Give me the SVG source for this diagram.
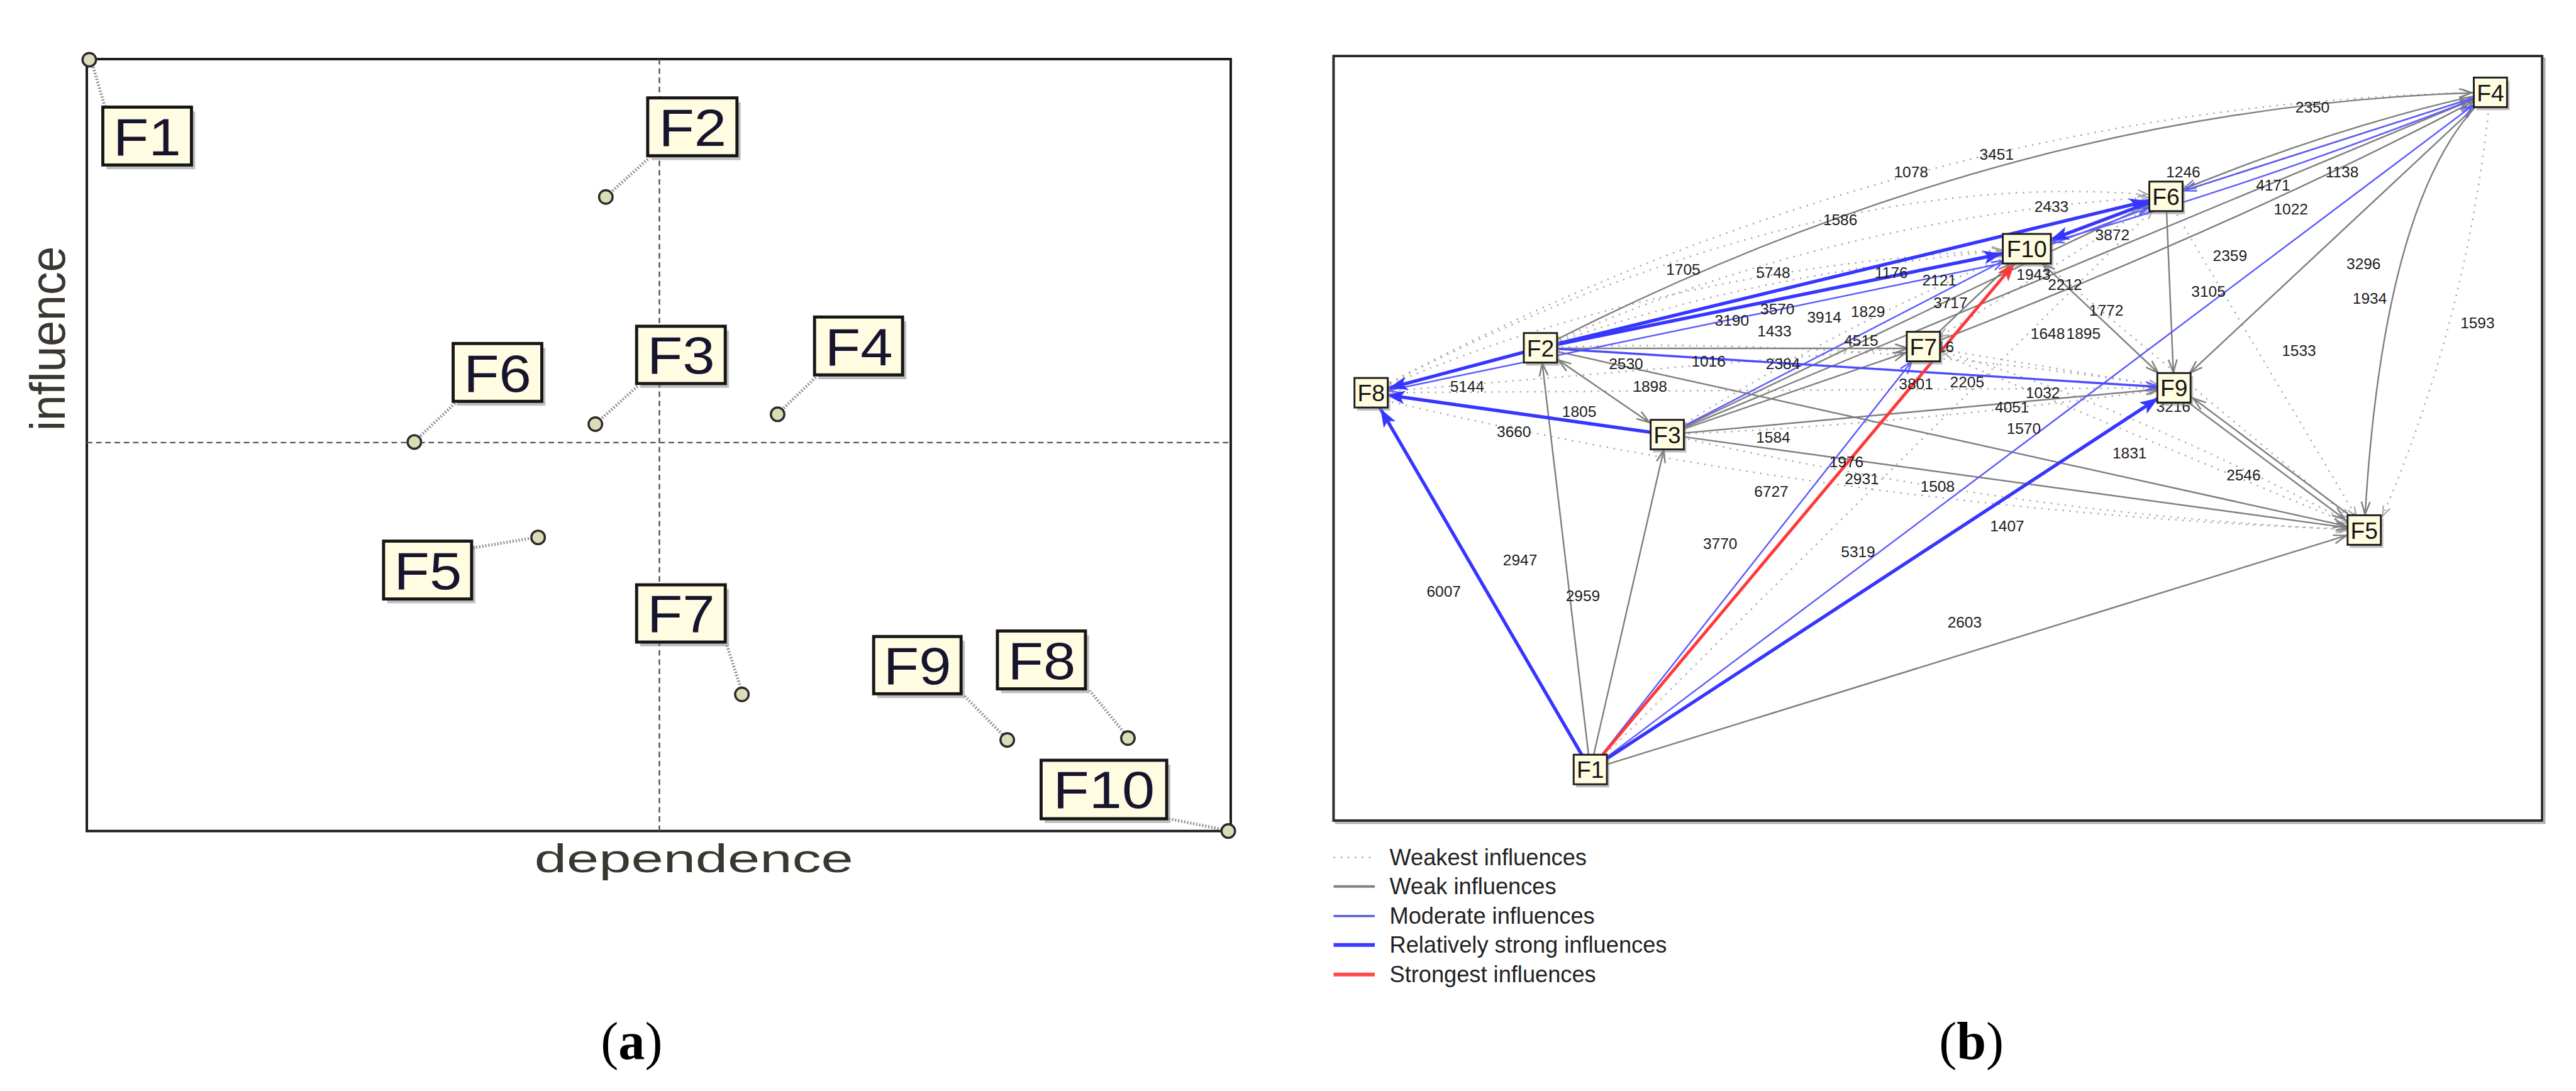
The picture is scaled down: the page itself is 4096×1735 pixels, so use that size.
<svg xmlns="http://www.w3.org/2000/svg" width="4096" height="1735" viewBox="0 0 4096 1735">
<style>
.eg{fill:none;stroke:#7f7f7f;stroke-width:2.5}
.eb{fill:none;stroke:#5b5bff;stroke-width:2.5}
.eb2{fill:none;stroke:#4a4aff;stroke-width:3.5}
.eB{fill:none;stroke:#3636ff;stroke-width:5.5}
.er{fill:none;stroke:#ff3838;stroke-width:5}
.ed{fill:none;stroke:#a8a8a8;stroke-width:2.5;stroke-dasharray:2.5 9}
.lb{font-family:"Liberation Sans",Arial,sans-serif;font-size:25px;fill:#1c1c1c;text-anchor:middle}
.bx{fill:#fffce0;stroke:#1e1e1e;stroke-width:3}
.bxa{fill:#fffce2;stroke:#161616;stroke-width:5}
.sh{fill:#8a8a8a;opacity:0.55}
.nt{font-family:"Liberation Sans",Arial,sans-serif;font-size:38px;fill:#151515;text-anchor:middle}
.nta{font-family:"Liberation Sans",Arial,sans-serif;font-size:86px;fill:#17142e;text-anchor:middle}
.pt{fill:#dcdcb8;stroke:#2a2a2a;stroke-width:3.5}
.ld{stroke:#8a8a8a;stroke-width:5;stroke-dasharray:2 3;fill:none}
.lg{font-family:"Liberation Sans",Arial,sans-serif;font-size:37px;fill:#222}
.cap{font-family:"Liberation Serif","Times New Roman",serif;font-size:86px;fill:#000;text-anchor:middle}
</style>
<defs>
<marker id="mg25" markerUnits="userSpaceOnUse" markerWidth="22" markerHeight="16" refX="46" refY="7" orient="auto-start-reverse" overflow="visible"><path d="M0,0 L21,7 L0,14" fill="none" stroke="#7f7f7f" stroke-width="2.5"/></marker>
<marker id="mg30" markerUnits="userSpaceOnUse" markerWidth="22" markerHeight="16" refX="51" refY="7" orient="auto-start-reverse" overflow="visible"><path d="M0,0 L21,7 L0,14" fill="none" stroke="#7f7f7f" stroke-width="2.5"/></marker>
<marker id="mg35" markerUnits="userSpaceOnUse" markerWidth="22" markerHeight="16" refX="56" refY="7" orient="auto-start-reverse" overflow="visible"><path d="M0,0 L21,7 L0,14" fill="none" stroke="#7f7f7f" stroke-width="2.5"/></marker>
<marker id="mb25" markerUnits="userSpaceOnUse" markerWidth="22" markerHeight="16" refX="46" refY="7" orient="auto" overflow="visible"><path d="M0,0 L21,7 L0,14" fill="none" stroke="#5b5bff" stroke-width="2.5"/></marker>
<marker id="mb30" markerUnits="userSpaceOnUse" markerWidth="22" markerHeight="16" refX="51" refY="7" orient="auto" overflow="visible"><path d="M0,0 L21,7 L0,14" fill="none" stroke="#5b5bff" stroke-width="2.5"/></marker>
<marker id="mb35" markerUnits="userSpaceOnUse" markerWidth="22" markerHeight="16" refX="56" refY="7" orient="auto" overflow="visible"><path d="M0,0 L21,7 L0,14" fill="none" stroke="#5b5bff" stroke-width="2.5"/></marker>
<marker id="mb41" markerUnits="userSpaceOnUse" markerWidth="22" markerHeight="16" refX="62" refY="7" orient="auto" overflow="visible"><path d="M0,0 L21,7 L0,14" fill="none" stroke="#5b5bff" stroke-width="2.5"/></marker>
<marker id="mB25" markerUnits="userSpaceOnUse" markerWidth="32" markerHeight="24" refX="55" refY="11" orient="auto" overflow="visible"><path d="M0,0 L30,11 L0,22 L7,11 z" fill="#3636ff"/></marker>
<marker id="mB30" markerUnits="userSpaceOnUse" markerWidth="32" markerHeight="24" refX="60" refY="11" orient="auto" overflow="visible"><path d="M0,0 L30,11 L0,22 L7,11 z" fill="#3636ff"/></marker>
<marker id="mB41" markerUnits="userSpaceOnUse" markerWidth="32" markerHeight="24" refX="71" refY="11" orient="auto" overflow="visible"><path d="M0,0 L30,11 L0,22 L7,11 z" fill="#3636ff"/></marker>
<marker id="mr30" markerUnits="userSpaceOnUse" markerWidth="32" markerHeight="24" refX="60" refY="11" orient="auto" overflow="visible"><path d="M0,0 L30,11 L0,22 L7,11 z" fill="#ff3838"/></marker>
<marker id="md25" markerUnits="userSpaceOnUse" markerWidth="18" markerHeight="14" refX="41" refY="6" orient="auto" overflow="visible"><path d="M0,0 L16,6 L0,12" fill="none" stroke="#a0a0a0" stroke-width="2"/></marker>
<marker id="md30" markerUnits="userSpaceOnUse" markerWidth="18" markerHeight="14" refX="46" refY="6" orient="auto" overflow="visible"><path d="M0,0 L16,6 L0,12" fill="none" stroke="#a0a0a0" stroke-width="2"/></marker>
<marker id="md35" markerUnits="userSpaceOnUse" markerWidth="18" markerHeight="14" refX="51" refY="6" orient="auto" overflow="visible"><path d="M0,0 L16,6 L0,12" fill="none" stroke="#a0a0a0" stroke-width="2"/></marker>
<marker id="md41" markerUnits="userSpaceOnUse" markerWidth="18" markerHeight="14" refX="57" refY="6" orient="auto" overflow="visible"><path d="M0,0 L16,6 L0,12" fill="none" stroke="#a0a0a0" stroke-width="2"/></marker>
</defs>
<rect x="0" y="0" width="4096" height="1735" fill="#ffffff"/>
<g transform="scale(0.978967)">

<!-- ===== Panel (a) ===== -->
<g id="panel-a">
  <rect x="141" y="96" width="1858" height="1254" fill="none" stroke="#1a1a1a" stroke-width="4"/>
  <line x1="1071" y1="96" x2="1071" y2="1350" stroke="#555" stroke-width="2.5" stroke-dasharray="9 6"/>
  <line x1="141" y1="719" x2="1999" y2="719" stroke="#555" stroke-width="2.5" stroke-dasharray="9 6"/>
  <text transform="translate(105,700) rotate(-90)" font-family="Liberation Sans, Arial, sans-serif" font-size="80" fill="#3a3630" textLength="300" lengthAdjust="spacingAndGlyphs">influence</text>
  <text x="868" y="1417" font-family="Liberation Sans, Arial, sans-serif" font-size="64" fill="#3a3630" textLength="518" lengthAdjust="spacingAndGlyphs">dependence</text>
</g>
<g id="a-F1"><line class="ld" x1="150" y1="104" x2="170" y2="172"/><circle class="pt" cx="145" cy="97" r="11"/><rect class="sh" x="173" y="181" width="144" height="94"/><rect class="bxa" x="167" y="174" width="144" height="94"/><text class="nta" x="239" y="252" textLength="110" lengthAdjust="spacingAndGlyphs">F1</text></g>
<g id="a-F2"><line class="ld" x1="995" y1="310" x2="1055" y2="256"/><circle class="pt" cx="984" cy="320" r="11"/><rect class="sh" x="1058" y="166" width="145" height="94"/><rect class="bxa" x="1052" y="159" width="145" height="94"/><text class="nta" x="1125" y="237" textLength="110" lengthAdjust="spacingAndGlyphs">F2</text></g>
<g id="a-F3"><line class="ld" x1="978" y1="679" x2="1037" y2="626"/><circle class="pt" cx="967" cy="689" r="11"/><rect class="sh" x="1040" y="537" width="144" height="93"/><rect class="bxa" x="1034" y="530" width="144" height="93"/><text class="nta" x="1106" y="607" textLength="110" lengthAdjust="spacingAndGlyphs">F3</text></g>
<g id="a-F4"><line class="ld" x1="1273" y1="663" x2="1326" y2="612"/><circle class="pt" cx="1263" cy="673" r="11"/><rect class="sh" x="1329" y="522" width="143" height="94"/><rect class="bxa" x="1323" y="515" width="143" height="94"/><text class="nta" x="1395" y="593" textLength="110" lengthAdjust="spacingAndGlyphs">F4</text></g>
<g id="a-F6"><line class="ld" x1="683" y1="708" x2="739" y2="655"/><circle class="pt" cx="673" cy="718" r="11"/><rect class="sh" x="742" y="565" width="144" height="94"/><rect class="bxa" x="736" y="558" width="144" height="94"/><text class="nta" x="808" y="636" textLength="110" lengthAdjust="spacingAndGlyphs">F6</text></g>
<g id="a-F5"><line class="ld" x1="864" y1="874" x2="768" y2="890"/><circle class="pt" cx="874" cy="873" r="11"/><rect class="sh" x="629" y="886" width="143" height="94"/><rect class="bxa" x="623" y="879" width="143" height="94"/><text class="nta" x="695" y="957" textLength="110" lengthAdjust="spacingAndGlyphs">F5</text></g>
<g id="a-F7"><line class="ld" x1="1203" y1="1117" x2="1180" y2="1046"/><circle class="pt" cx="1205" cy="1128" r="11"/><rect class="sh" x="1040" y="957" width="144" height="93"/><rect class="bxa" x="1034" y="950" width="144" height="93"/><text class="nta" x="1106" y="1027" textLength="110" lengthAdjust="spacingAndGlyphs">F7</text></g>
<g id="a-F9"><line class="ld" x1="1628" y1="1193" x2="1566" y2="1130"/><circle class="pt" cx="1636" cy="1202" r="11"/><rect class="sh" x="1425" y="1041" width="142" height="93"/><rect class="bxa" x="1419" y="1034" width="142" height="93"/><text class="nta" x="1490" y="1111" textLength="110" lengthAdjust="spacingAndGlyphs">F9</text></g>
<g id="a-F8"><line class="ld" x1="1825" y1="1189" x2="1770" y2="1122"/><circle class="pt" cx="1832" cy="1199" r="11"/><rect class="sh" x="1626" y="1032" width="143" height="94"/><rect class="bxa" x="1620" y="1025" width="143" height="94"/><text class="nta" x="1692" y="1103" textLength="110" lengthAdjust="spacingAndGlyphs">F8</text></g>
<g id="a-F10"><line class="ld" x1="1984" y1="1347" x2="1898" y2="1330"/><circle class="pt" cx="1995" cy="1350" r="11"/><rect class="sh" x="1697" y="1242" width="204" height="95"/><rect class="bxa" x="1691" y="1235" width="204" height="95"/><text class="nta" x="1793" y="1313" textLength="165" lengthAdjust="spacingAndGlyphs">F10</text></g>

<!-- ===== Panel (b) ===== -->
<g id="panel-b-frame">
  <rect x="2170" y="95" width="1963" height="1242" fill="none" stroke="#b0b0b0" stroke-width="3"/>
  <rect x="2166" y="91" width="1963" height="1242" fill="#fff" stroke="#2a2a2a" stroke-width="4"/>
</g>

<g id="connectors">
  <!-- weakest (dotted) -->
  <path class="ed" d="M2227,638 Q3100,166 4045,150" marker-end="url(#md30)"/>
  <path class="ed" d="M2227,638 Q2950,260 3518,319" marker-end="url(#md30)"/>
  <path class="ed" d="M2227,638 Q2700,430 3292,404" marker-end="url(#md41)"/>
  <path class="ed" d="M2227,638 L3124,563" marker-end="url(#md25)"/>
  <path class="ed" d="M2227,638 L3531,630" marker-end="url(#md25)"/>
  <path class="ed" d="M2227,645 Q3000,830 3840,861" marker-end="url(#md30)"/>
  <path class="ed" d="M2502,565 Q2850,440 3292,404" marker-end="url(#md41)"/>
  <path class="ed" d="M2502,565 Q3000,545 3531,630" marker-end="url(#md25)"/>
  <path class="ed" d="M2502,565 Q2980,350 3518,319" marker-end="url(#md30)"/>
  <path class="ed" d="M2708,706 Q3100,690 3531,630" marker-end="url(#md25)"/>
  <path class="ed" d="M2708,706 Q3300,840 3840,861" marker-end="url(#md25)"/>
  <path class="ed" d="M2708,706 Q3000,520 3292,404" marker-end="url(#md35)"/>
  <path class="ed" d="M2583,1250 L3518,319" marker-end="url(#md30)"/>
  <path class="ed" d="M3124,563 L3840,861" marker-end="url(#md30)"/>
  <path class="ed" d="M3292,404 L3840,861" marker-end="url(#md30)"/>
  <path class="ed" d="M3518,319 L3840,861" marker-end="url(#md25)"/>
  <path class="ed" d="M4045,150 Q4010,520 3860,861" marker-end="url(#md25)"/>
  <path class="ed" d="M3124,563 L3531,630" marker-end="url(#md25)"/>
  <path class="ed" d="M3518,319 L3124,563" marker-end="url(#md30)"/>
  <path class="ed" d="M3840,861 Q3420,640 3124,563" marker-end="url(#md30)"/>
  <!-- weak (grey) -->
  <path class="eg" d="M2583,1250 L2502,565" marker-end="url(#mg25)"/>
  <path class="eg" d="M2583,1250 L2708,706" marker-end="url(#mg25)"/>
  <path class="eg" d="M2583,1250 L3840,861" marker-end="url(#mg30)"/>
  <path class="eg" d="M2502,565 Q3275,168 4045,150" marker-end="url(#mg30)"/>
  <path class="eg" d="M2502,566 L3124,566" marker-end="url(#mg25)"/>
  <path class="eg" d="M2502,565 L3840,861" marker-end="url(#mg30)"/>
  <path class="eg" d="M2502,565 L2708,706" marker-start="url(#mg35)" marker-end="url(#mg35)"/>
  <path class="eg" d="M2708,706 L3124,563" marker-end="url(#mg30)"/>
  <path class="eg" d="M2708,706 L3531,630" marker-end="url(#mg25)"/>
  <path class="eg" d="M2708,706 L3840,861" marker-end="url(#mg25)"/>
  <path class="eg" d="M2708,706 L4045,150" marker-end="url(#mg30)"/>
  <path class="eg" d="M2708,706 L3518,319" marker-end="url(#mg30)"/>
  <path class="eg" d="M3124,563 L3292,404" marker-end="url(#mg35)"/>
  <path class="eg" d="M3124,563 Q3650,360 4045,150" marker-end="url(#mg30)"/>
  <path class="eg" d="M3292,404 L3531,630" marker-start="url(#mg35)" marker-end="url(#mg35)"/>
  <path class="eg" d="M3518,319 L3531,630" marker-end="url(#mg25)"/>
  <path class="eg" d="M4045,150 L3531,630" marker-end="url(#mg35)"/>
  <path class="eg" d="M4045,150 Q3870,300 3840,861" marker-start="url(#mg35)" marker-end="url(#mg25)"/>
  <path class="eg" d="M3528,634 L3837,865" marker-end="url(#mg35)"/>
  <path class="eg" d="M3843,857 L3534,626" marker-end="url(#mg35)"/>
  <path class="eg" d="M3518,319 L4045,150" marker-end="url(#mg30)"/>
  <path class="eg" d="M4045,150 Q3790,205 3518,319" marker-end="url(#mg30)"/>
  <!-- moderate (thin blue) -->
  <path class="eb" d="M2583,1250 L3124,563" marker-end="url(#mb30)"/>
  <path class="eb" d="M2583,1250 L4045,150" marker-end="url(#mb35)"/>
  <path class="eb" d="M2708,706 L3292,404" marker-end="url(#mb41)"/>
  <path class="eb" d="M3292,412 L3518,327" marker-end="url(#mb30)"/>
  <path class="eb" d="M4045,150 L3518,319" marker-end="url(#mb30)"/>
  <path class="eb" d="M4045,150 Q3668,300 3292,404" marker-end="url(#mb41)"/>
  <path class="eb" d="M3265,425 L2227,640" marker-end="url(#mb25)"/>
  <path class="eb2" d="M2502,565 L3531,630" marker-end="url(#mb25)"/>
  <!-- relatively strong (thick blue) -->
  <path class="eB" d="M2583,1250 L2227,638" marker-end="url(#mB30)"/>
  <path class="eB" d="M2502,565 L2227,638" marker-end="url(#mB30)"/>
  <path class="eB" d="M2708,706 L2227,638" marker-end="url(#mB25)"/>
  <path class="eB" d="M2502,565 L3292,404" marker-end="url(#mB41)"/>
  <path class="eB" d="M2583,1250 L3531,630" marker-end="url(#mB30)"/>
  <path class="eB" d="M3518,319 L3292,404" marker-end="url(#mB41)"/>
  <path class="eB" d="M2502,565 L3518,319" marker-end="url(#mB30)"/>
  <!-- strongest (red) -->
  <path class="er" d="M2583,1250 L3292,404" marker-end="url(#mr30)"/>
</g>

<g id="edge-labels">
  <text class="lb" x="3104" y="288">1078</text>
  <text class="lb" x="3243" y="259">3451</text>
  <text class="lb" x="3756" y="183">2350</text>
  <text class="lb" x="3546" y="288">1246</text>
  <text class="lb" x="3804" y="288">1138</text>
  <text class="lb" x="3692" y="310">4171</text>
  <text class="lb" x="3721" y="348">1022</text>
  <text class="lb" x="3332" y="344">2433</text>
  <text class="lb" x="3431" y="390">3872</text>
  <text class="lb" x="2989" y="366">1586</text>
  <text class="lb" x="2734" y="446">1705</text>
  <text class="lb" x="2880" y="451">5748</text>
  <text class="lb" x="3072" y="451">1176</text>
  <text class="lb" x="3150" y="464">2121</text>
  <text class="lb" x="3168" y="501">3717</text>
  <text class="lb" x="3303" y="455">1943</text>
  <text class="lb" x="3354" y="471">2212</text>
  <text class="lb" x="3622" y="424">2359</text>
  <text class="lb" x="3839" y="437">3296</text>
  <text class="lb" x="3587" y="482">3105</text>
  <text class="lb" x="3849" y="493">1934</text>
  <text class="lb" x="4024" y="533">1593</text>
  <text class="lb" x="3421" y="513">1772</text>
  <text class="lb" x="3326" y="551">1648</text>
  <text class="lb" x="3384" y="551">1895</text>
  <text class="lb" x="3734" y="578">1533</text>
  <text class="lb" x="2813" y="529">3190</text>
  <text class="lb" x="2887" y="511">3570</text>
  <text class="lb" x="2963" y="524">3914</text>
  <text class="lb" x="3034" y="515">1829</text>
  <text class="lb" x="2882" y="547">1433</text>
  <text class="lb" x="3023" y="562">4515</text>
  <text class="lb" x="2641" y="600">2530</text>
  <text class="lb" x="2775" y="596">1016</text>
  <text class="lb" x="2896" y="600">2384</text>
  <text class="lb" x="2680" y="636">1898</text>
  <text class="lb" x="2383" y="636">5144</text>
  <text class="lb" x="2565" y="677">1805</text>
  <text class="lb" x="2459" y="710">3660</text>
  <text class="lb" x="2880" y="719">1584</text>
  <text class="lb" x="3112" y="632">3801</text>
  <text class="lb" x="3195" y="629">2205</text>
  <text class="lb" x="3318" y="647">1032</text>
  <text class="lb" x="3268" y="670">4051</text>
  <text class="lb" x="3530" y="669">3216</text>
  <text class="lb" x="3287" y="705">1570</text>
  <text class="lb" x="3459" y="745">1831</text>
  <text class="lb" x="3644" y="780">2546</text>
  <text class="lb" x="2999" y="759">1976</text>
  <text class="lb" x="3024" y="787">2931</text>
  <text class="lb" x="2877" y="807">6727</text>
  <text class="lb" x="3147" y="799">1508</text>
  <text class="lb" x="3260" y="863">1407</text>
  <text class="lb" x="2794" y="892">3770</text>
  <text class="lb" x="3018" y="905">5319</text>
  <text class="lb" x="2469" y="918">2947</text>
  <text class="lb" x="2345" y="969">6007</text>
  <text class="lb" x="2571" y="977">2959</text>
  <text class="lb" x="3191" y="1019">2603</text>
  <text class="lb" x="3160" y="572">16</text>
</g>

<g id="b-F8"><rect class="sh" x="2204" y="619" width="54" height="48"/><rect class="bx" x="2200" y="614" width="54" height="48"/><text class="nt" x="2227" y="652">F8</text></g>
<g id="b-F2"><rect class="sh" x="2479" y="546" width="54" height="48"/><rect class="bx" x="2475" y="541" width="54" height="48"/><text class="nt" x="2502" y="579">F2</text></g>
<g id="b-F3"><rect class="sh" x="2685" y="687" width="54" height="48"/><rect class="bx" x="2681" y="682" width="54" height="48"/><text class="nt" x="2708" y="720">F3</text></g>
<g id="b-F7"><rect class="sh" x="3101" y="544" width="54" height="48"/><rect class="bx" x="3097" y="539" width="54" height="48"/><text class="nt" x="3124" y="577">F7</text></g>
<g id="b-F10"><rect class="sh" x="3257" y="385" width="78" height="48"/><rect class="bx" x="3253" y="380" width="78" height="48"/><text class="nt" x="3292" y="418">F10</text></g>
<g id="b-F6"><rect class="sh" x="3495" y="300" width="54" height="48"/><rect class="bx" x="3491" y="295" width="54" height="48"/><text class="nt" x="3518" y="333">F6</text></g>
<g id="b-F9"><rect class="sh" x="3508" y="611" width="54" height="48"/><rect class="bx" x="3504" y="606" width="54" height="48"/><text class="nt" x="3531" y="644">F9</text></g>
<g id="b-F4"><rect class="sh" x="4022" y="131" width="54" height="48"/><rect class="bx" x="4018" y="126" width="54" height="48"/><text class="nt" x="4045" y="164">F4</text></g>
<g id="b-F5"><rect class="sh" x="3817" y="842" width="54" height="48"/><rect class="bx" x="3813" y="837" width="54" height="48"/><text class="nt" x="3840" y="875">F5</text></g>
<g id="b-F1"><rect class="sh" x="2560" y="1231" width="54" height="48"/><rect class="bx" x="2556" y="1226" width="54" height="48"/><text class="nt" x="2583" y="1264">F1</text></g>

<g id="legend">
  <line class="ed" x1="2166" y1="1393" x2="2233" y2="1393"/>
  <line x1="2166" y1="1440" x2="2233" y2="1440" stroke="#808080" stroke-width="4"/>
  <line x1="2166" y1="1488" x2="2233" y2="1488" stroke="#5b5bdd" stroke-width="3.5"/>
  <line x1="2166" y1="1535" x2="2233" y2="1535" stroke="#3a3aff" stroke-width="6"/>
  <line x1="2166" y1="1583" x2="2233" y2="1583" stroke="#ff4a4a" stroke-width="6"/>
  <text class="lg" x="2257" y="1406">Weakest influences</text>
  <text class="lg" x="2257" y="1453">Weak influences</text>
  <text class="lg" x="2257" y="1501">Moderate influences</text>
  <text class="lg" x="2257" y="1548">Relatively strong influences</text>
  <text class="lg" x="2257" y="1596">Strongest influences</text>
</g>

<g id="captions">
  <text class="cap" x="1026" y="1720">(<tspan font-weight="bold">a</tspan>)</text>
  <text class="cap" x="3202" y="1720">(<tspan font-weight="bold">b</tspan>)</text>
</g>
</g>
</svg>
